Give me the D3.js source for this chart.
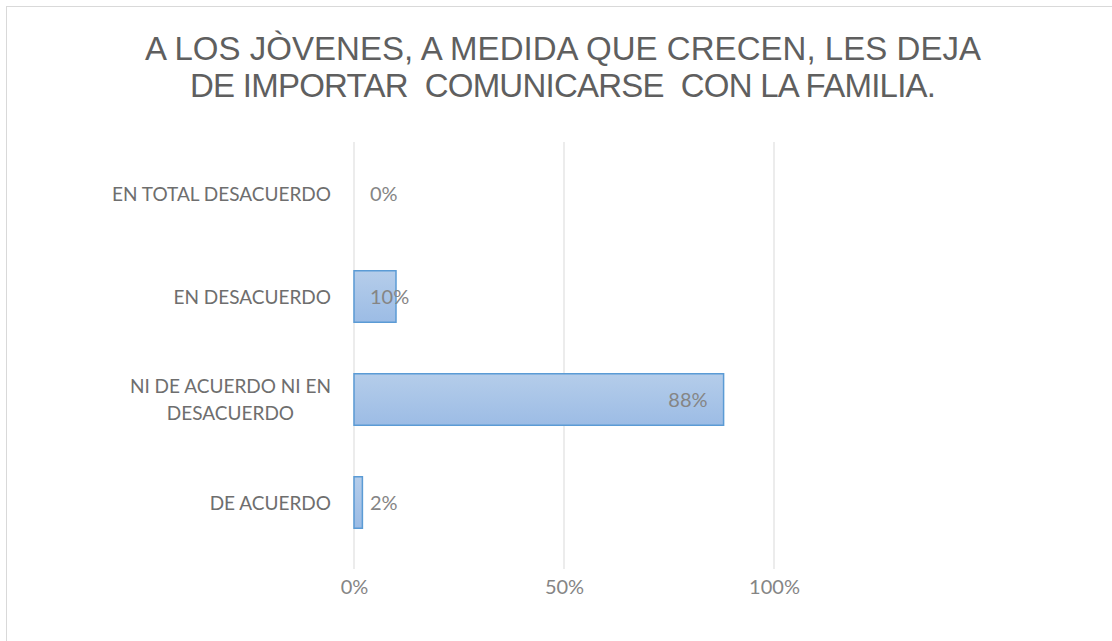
<!DOCTYPE html>
<html><head><meta charset="utf-8">
<script src="https://cdn.jsdelivr.net/npm/d3@7/dist/d3.min.js"></script>
<style>body{margin:0;background:#fff;} svg{display:block;}</style>
</head><body>
<svg id="c" width="1112" height="641"></svg>
<script>
const categories = ["EN TOTAL DESACUERDO", "EN DESACUERDO", "NI DE ACUERDO NI EN|DESACUERDO", "DE ACUERDO"];
const values = [0, 0.10, 0.88, 0.02];
const tickValues = [0, 0.5, 1];
const titleLines = ["A LOS JÒVENES, A MEDIDA QUE CRECEN, LES DEJA", "DE IMPORTAR  COMUNICARSE  CON LA FAMILIA."];

const svg = d3.select("#c");
svg.append("rect").attr("x",6.5).attr("y",6.5).attr("width",1200).attr("height",800)
  .attr("fill","#fff").attr("stroke","#d9d9d9").attr("stroke-width",1);

const defs = svg.append("defs");
const g0 = defs.append("linearGradient").attr("id","bg").attr("x1",0).attr("y1",0).attr("x2",0).attr("y2",1);
g0.append("stop").attr("offset","0%").attr("stop-color","#b5cdea");
g0.append("stop").attr("offset","100%").attr("stop-color","#9cbce5");

const x = d3.scaleLinear().domain([0,1]).range([354,774]);
const y = d3.scaleBand().domain(categories).range([142,554]).paddingInner(0.5).paddingOuter(0.25);

// title
svg.append("g").selectAll("text").data(titleLines).join("text")
  .attr("x",563).attr("y",(d,i)=>60+i*37)
  .attr("text-anchor","middle")
  .attr("font-family","'Liberation Sans Narrow', 'Liberation Sans', Arial, sans-serif")
  .attr("font-size",33).attr("fill","#5f5f5f")
  .attr("xml:space","preserve").style("white-space","pre")
  .attr("textLength",(d,i)=> i===0 ? 836 : 746)
  .attr("lengthAdjust","spacing")
  .text(d=>d);

// gridlines
svg.append("g").selectAll("line").data(tickValues).join("line")
  .attr("x1",d=>x(d)).attr("x2",d=>x(d)).attr("y1",142).attr("y2",569)
  .attr("stroke","#d9d9d9").attr("stroke-width",1);

// x axis labels
const xAxis = d3.axisBottom(x).tickValues(tickValues).tickFormat(d3.format(".0%")).tickSize(0).tickPadding(0);
const ax = svg.append("g").attr("transform","translate(0,580)").call(xAxis);
ax.select(".domain").remove();
ax.selectAll("text").attr("font-family","Lato, 'Open Sans', sans-serif").attr("font-size",20).attr("fill","#858585");

// bars
svg.append("g").selectAll("rect").data(values).join("rect")
  .attr("x",x(0)).attr("y",(d,i)=>y(categories[i]))
  .attr("width",d=>x(d)-x(0)).attr("height",y.bandwidth())
  .attr("fill","url(#bg)").attr("stroke",d=>d>0?"#5b9bd5":"none").attr("stroke-width",1.5);

// y labels
const yl = svg.append("g").selectAll("text").data(categories).join("text")
  .attr("font-family","Lato, 'Open Sans', sans-serif").attr("font-size",19).attr("fill","#6e6e6e")
  .attr("text-anchor","middle");
yl.each(function(d){
  const lines = d.split("|");
  const t = d3.select(this);
  const cy = y(d)+y.bandwidth()/2;
  const lh = 27;
  const y0 = cy - (lines.length-1)*lh/2 + 7;
  lines.forEach((l,k)=>{ t.append("tspan").attr("y",y0+k*lh).text(l); });
  let maxW = 0;
  t.selectAll("tspan").each(function(){ maxW=Math.max(maxW,this.getComputedTextLength()); });
  t.selectAll("tspan").attr("x",331-maxW/2);
});

// data labels
svg.append("g").selectAll("text").data(values).join("text")
  .attr("font-family","Lato, 'Open Sans', sans-serif").attr("font-size",20).attr("fill","#858585")
  .attr("x",d=> d<0.2 ? x(0)+16 : x(d)-16)
  .attr("text-anchor",d=> d<0.2 ? "start" : "end")
  .attr("y",(d,i)=>y(categories[i])+y.bandwidth()/2+7)
  .text(d=>d3.format(".0%")(d));
</script>
</body></html>
